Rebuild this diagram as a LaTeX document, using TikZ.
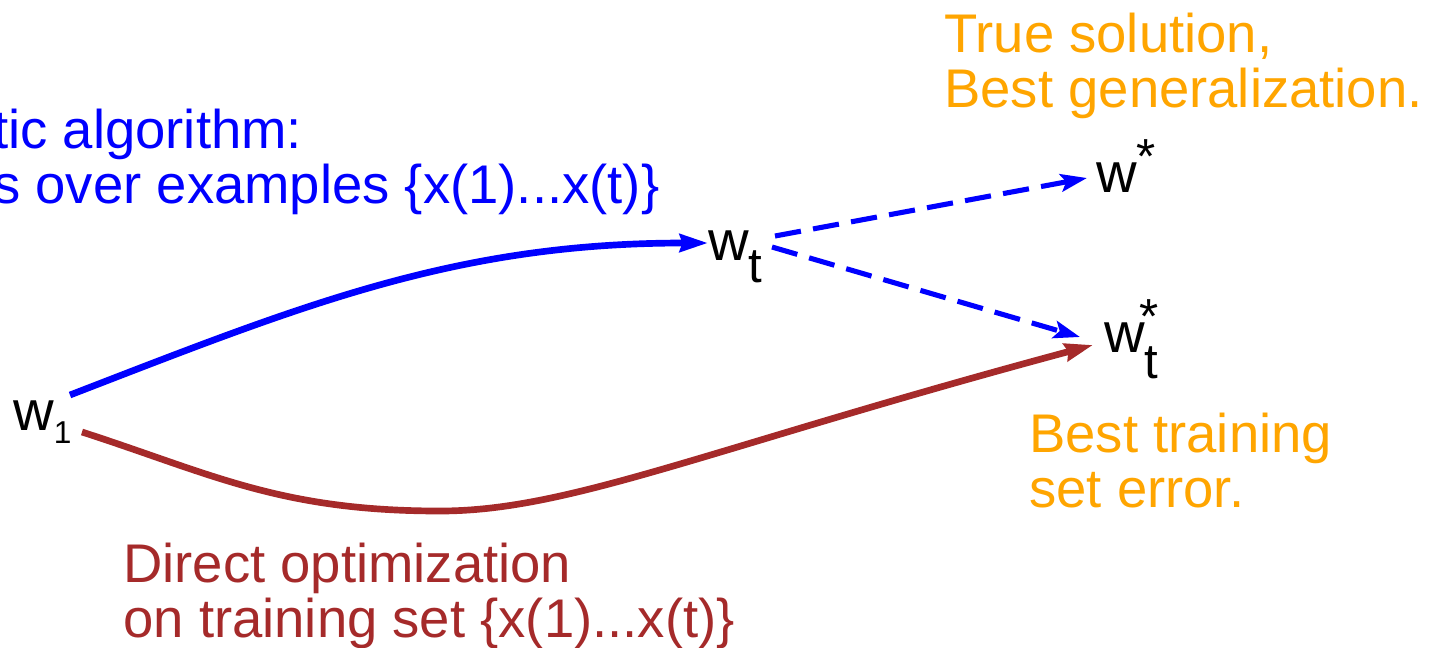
\documentclass[tikz,border=0pt]{standalone}
\usepackage{fontspec}
\setmainfont{Liberation Sans}
\usetikzlibrary{arrows.meta,calc}

\definecolor{algblue}{RGB}{0,0,255}
\definecolor{solorange}{RGB}{255,165,0}
\definecolor{optred}{RGB}{165,42,42}

\begin{document}
\begin{tikzpicture}[
    x=0.02cm, y=-0.02cm,
    txt/.style={font=\fontsize{31}{31}\selectfont, align=left, inner sep=0pt, anchor=base west},
    wlbl/.style={font=\fontsize{32}{32}\selectfont, inner sep=0pt, anchor=base west},
    path/.style={line width=3.8pt, -{Stealth[length=16pt, width=10pt, inset=1.5pt]}},
    guess/.style={line width=2.9pt, algblue, dash pattern=on 15pt off 7pt, -{Stealth[length=15pt, width=10pt, inset=3pt]}},
]
\useasboundingbox (0,0) rectangle (1430,647);
\clip (0,0) rectangle (1430,647);

% Weight vectors
\node[wlbl] (w1) at (13,430) {w\raisebox{-0.26cm}{\fontsize{18}{18}\selectfont 1}};
\node[wlbl] (wt) at (708,260) {w\raisebox{-0.44cm}{\fontsize{28}{28}\selectfont t}};
\node[wlbl] (ws) at (1096,192) {w\raisebox{0.38cm}{\fontsize{28}{28}\selectfont *}};
\node[wlbl] (wts) at (1104,352) {w\rlap{\hspace*{-0.1cm}\raisebox{0.38cm}{\fontsize{28}{28}\selectfont *}}\raisebox{-0.52cm}{\fontsize{28}{28}\selectfont t}};

% Captions (anchored on the baseline of their last line)
\node[txt, text=algblue] (stoch) at (-7,203) {tic algorithm:\\s over examples \{x(1)...x(t)\}};
\node[txt, text=solorange] (truesol) at (944,107) {True solution,\\Best generalization.};
\node[txt, text=solorange] (besttrain) at (1029,507) {Best training\\set error.};
\node[txt, text=optred] (direct) at (123,637) {Direct optimization\\on training set \{x(1)...x(t)\}};

% Stochastic path
\draw[path, algblue] ($(w1.base west)+(57,-35)$) .. controls +(233,-90) and +(-253,0) .. ($(wt.base west)+(0,-17)$);

% Direct optimization path
\coordinate (dip) at (440,511);
\draw[path, optred] ($(w1.base west)+(69,2)$) .. controls +(130,42) and +(-160,0) .. (dip)
    .. controls +(130,0) and +(-387,104) .. ($(wts.base west)+(-11,-7)$);

% Generalization gaps
\draw[guess] ($(wt.base west)+(67,-24)$) -- ($(ws.base west)+(-9,-14)$);
\draw[guess] ($(wt.base west)+(64,-13)$) -- ($(wts.base west)+(-24,-15)$);

\end{tikzpicture}
\end{document}
